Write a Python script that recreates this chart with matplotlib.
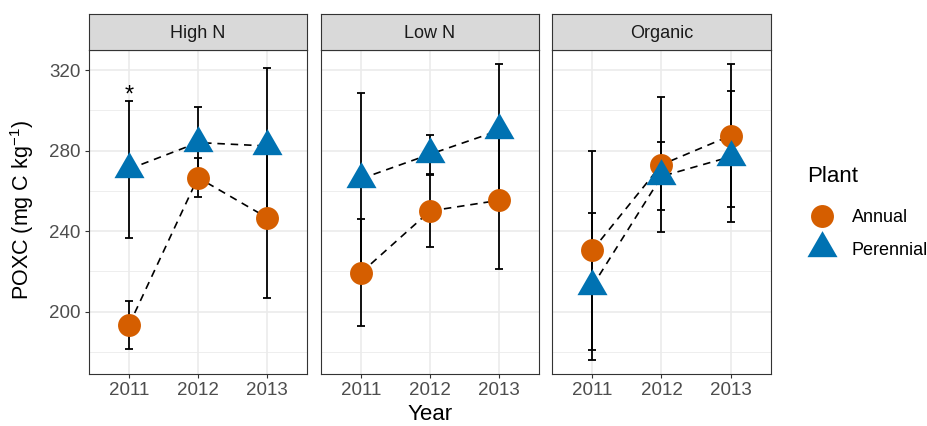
import matplotlib
matplotlib.use("Agg")
import matplotlib.pyplot as plt
from matplotlib.lines import Line2D

plt.rcParams["font.family"] = ["Liberation Sans", "DejaVu Sans"]
plt.rcParams["mathtext.fontset"] = "custom"
plt.rcParams["mathtext.rm"] = "Liberation Sans"
plt.rcParams["mathtext.it"] = "Liberation Sans:italic"

# data
years = [2011, 2012, 2013]
panels = ["High N", "Low N", "Organic"]
annual_mean = {"High N": [193.3, 266.6, 246.7],
               "Low N": [219.3, 250.0, 255.3],
               "Organic": [230.4, 273.0, 287.5]}
annual_err = {"High N": [12.0, 9.6, 39.8],
              "Low N": [26.6, 18.1, 34.0],
              "Organic": [49.5, 33.4, 35.5]}
perennial_mean = {"High N": [270.8, 284.0, 282.3],
                  "Low N": [266.0, 278.2, 290.0],
                  "Organic": [212.5, 267.2, 277.0]}
perennial_err = {"High N": [34.0, 17.5, 38.7],
                 "Low N": [42.4, 9.6, 33.0],
                 "Organic": [36.4, 16.9, 32.7]}
star_panel, star_year, star_y = "High N", 2011, 307.5

ANNUAL_COL = "#D55E00"
PERENNIAL_COL = "#0072B2"
GRID = "#EBEBEB"
BORDER = "#333333"
TICKTXT = "#4D4D4D"

# equilateral triangle like ggplot's shape 17
TRI = [(0, 1), (-0.866, -0.5), (0.866, -0.5)]

W, H = 927, 426
fig = plt.figure(figsize=(W / 100, H / 100), dpi=100)


def px_axes(x0, y0, x1, y1):
    return fig.add_axes([x0 / W, 1 - y1 / H, (x1 - x0) / W, (y1 - y0) / H])


panel_x = [(89, 307), (321, 539), (552, 771)]
top, bottom, strip_top = 50, 374, 14

for i, (name, (x0, x1)) in enumerate(zip(panels, panel_x)):
    ax = px_axes(x0, top, x1, bottom)
    ax.set_xlim(2010.42, 2013.58)
    ax.set_ylim(169, 330)
    ax.set_yticks([200, 240, 280, 320])
    ax.set_yticks([180, 220, 260, 300], minor=True)
    ax.set_xticks(years)
    ax.set_xticklabels([str(y) for y in years])
    ax.grid(True, which="major", color=GRID, lw=1.2)
    ax.grid(True, which="minor", axis="y", color=GRID, lw=0.6)
    ax.set_axisbelow(True)
    for s in ax.spines.values():
        s.set_color(BORDER)
        s.set_linewidth(0.8)
    ax.tick_params(which="major", length=3, width=0.8, color=BORDER,
                   labelsize=13.5, labelcolor=TICKTXT, pad=3)
    ax.tick_params(which="minor", length=0)
    if i > 0:
        ax.tick_params(axis="y", which="both", left=False, labelleft=False)

    # error bars first, then dashed lines, then points
    for mean, err in [(annual_mean[name], annual_err[name]),
                      (perennial_mean[name], perennial_err[name])]:
        ax.errorbar(years, mean, yerr=err, fmt="none", ecolor="black",
                    elinewidth=1.3, capsize=2.8, capthick=1.3, zorder=2)
    ax.plot(years, annual_mean[name], color="black", lw=1.2,
            dashes=(4.5, 3.5), zorder=3)
    ax.plot(years, perennial_mean[name], color="black", lw=1.2,
            dashes=(4.5, 3.5), zorder=3)
    ax.plot(years, annual_mean[name], "o", color=ANNUAL_COL, ms=16.5,
            mec="none", zorder=4)
    ax.plot(years, perennial_mean[name], marker=TRI, ls="none",
            color=PERENNIAL_COL, ms=25, mec="none", zorder=5)

    if name == star_panel:
        ax.text(star_year, star_y, "*", ha="center", va="center",
                fontsize=17, color="black", zorder=6)

    # strip
    sax = px_axes(x0, strip_top, x1, top)
    sax.set_facecolor("#D9D9D9")
    sax.set_xticks([])
    sax.set_yticks([])
    for s in sax.spines.values():
        s.set_color(BORDER)
        s.set_linewidth(0.8)
    sax.text(0.5, 0.45, name, ha="center", va="center", fontsize=13,
             color="#1A1A1A", transform=sax.transAxes)

fig.text(22 / W, 1 - 210 / H, "POXC (mg C kg$^{-1}$)", rotation=90,
         ha="center", va="center", fontsize=15.5)
fig.text(430 / W, 1 - 420 / H, "Year", ha="center", va="baseline",
         fontsize=16)

# legend
fig.text(807 / W, 1 - 182 / H, "Plant", ha="left", va="baseline",
         fontsize=16)
handles = [
    Line2D([], [], marker="o", ls="none", color=ANNUAL_COL, ms=16.5,
           mec="none", label="Annual"),
    Line2D([], [], marker=TRI, ls="none", color=PERENNIAL_COL, ms=25,
           mec="none", label="Perennial"),
]
leg = fig.legend(handles=handles, loc="center left",
                 bbox_to_anchor=(808.5 / W, 1 - 234 / H), frameon=False,
                 fontsize=13, handlelength=1.5, handletextpad=0.9,
                 labelspacing=0.85, borderpad=0, borderaxespad=0)

fig.savefig("out.png", dpi=100)
